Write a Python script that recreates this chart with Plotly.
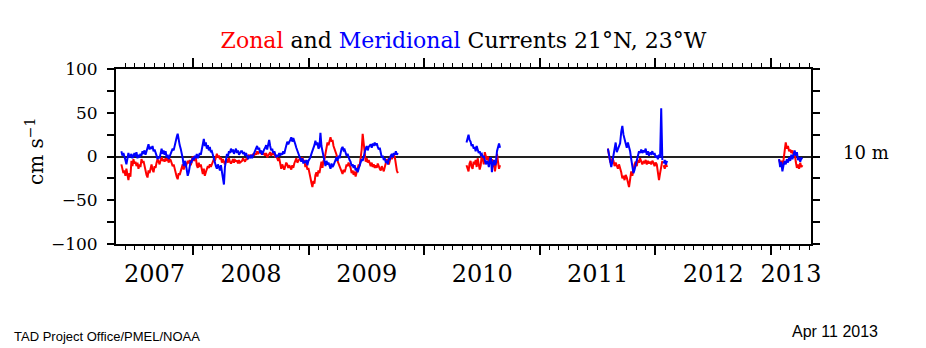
import plotly.graph_objects as go
import pandas as pd

# ---------------- data (cm/s) ----------------
# deployment periods (start, end)
seg_start = ["2007-05-19", "2010-05-14", "2011-08-04", "2012-01-27", "2013-01-26"]
seg_end = ["2009-10-09", "2010-08-28", "2012-01-23", "2012-02-07", "2013-04-10"]

# Zonal (u) component
u_seg1 = [-9, -14, -19, -16, -22, -14, -21, -27, -19, -23, -5, -11, -3, -8, -6,
          -11, -7, -14, -9, -12, -3, -7, -5, -11, -14, -21, -24, -16, -19, -12,
          -9, -15, -18, -11, -13, -7, -3, -6, -9, -4, -1, -5, -3, -6, -2,
          -5, -2, -7, -3, -4, -7, -11, -9, -15, -18, -23, -26, -19, -21, -16,
          -13, -9, -15, -10, -12, -9, -5, -8, -4, -10, -3, 0, -5, -2, -1,
          -10, -13, -7, -12, -9, -16, -20, -14, -22, -18, -15, -11, -13, -9, -12,
          -9, -6, -3, -5, 1, 3, -1, 1, -3, -1, -7, -3, -6, -9, -5,
          -4, -7, -2, -6, -8, -6, -3, -7, -4, -5, -5, -8, -4, -7, -6,
          -5, -2, -4, -6, -3, -3, 0, 2, -1, 1, 0, 3, 1, 4, 2, 6, 3, 5,
          7, 3, 5, 2, 4, 1, 4, -1, 2, 3, 5, 1, 4, 2, 6,
          -1, 1, -3, -5, -2, -10, -14, -9, -12, -15, -11, -7, -9, -13, -10,
          -12, -15, -10, -13, -8, -5, -2, -7, -4, -3, -3, -5, -1, -6, -4,
          -12, -9, -15, -13, -17, -24, -30, -35, -28, -31, -21, -18, -23, -16, -19,
          -10, -6, -13, -5, -3, 5, 11, 16, 13, 18, 22, 17, 19, 12, 9,
          7, 2, -5, -8, -11, -13, -16, -20, -15, -18, -14, -9, -11, -7, -10,
          -13, -19, -16, -21, -17, -23, -18, -13, -9, -11, -4, 8, 26, 12, 2,
          -6, -2, -7, -4, -9, -11, -7, -12, -9, -13, -10, -13, -8, -12, -14,
          -16, -11, -14, -17, -12, -7, -3, -6, -9, -5, 1, -3, 0, 2, -1,
          -12, -16, -19]
u_seg2 = [-10, -15, -17, -8, -5, -12, -14, -6, -9, -4, -12, -2, -8, -15, -10,
          2, -3, -9, 5, 1, -4, 0, -6, -2, -8, -3, -12, -6, -17, -9, 3, -6,
          -14, -10]
u_seg3 = [9, 2, -6, -8, -2, -5, -11, -7, -10, -14, -9, -13, -18, -25, -22,
          -27, -21, -24, -30, -35, -26, -17, -22, -15, -9, -6, -11, -4, -7, -2,
          -5, -9, -6, -7, -4, -9, -5, -8, -6, -9, -5, -7, -11, -7, -9,
          -16, -27, -19, -12, -5]
u_seg3b = [-10, -14, -8, -12]
u_seg4 = [-3, -8, -5, -9, -4, 11, 16, 9, 12, 6, 8, 4, 7, 2, 5, -6, -13, -9,
          -14, -7, -12, -10]

# Meridional (v) component
v_seg1 = [6, 1, 4, -2, -4, -9, -3, 4, -1, 2, 3, -2, 1, 4, 0,
          5, -2, 2, -1, 3, 1, 6, 3, 7, 2, 5, 10, 14, 8, 11,
          9, 12, 6, 8, 3, 1, -3, 0, -2, 4, 9, 3, 7, 2, 6,
          -1, 2, -3, 0, 3, 5, 9, 7, 13, 16, 22, 26, 18, 13, 9,
          5, -2, -11, -5, -8, -15, -22, -18, -9, -5, -6, -1, -4, 1, -2,
          3, -2, 1, 4, 2, 8, 15, 20, 12, 16, 9, 13, 7, 11, 5,
          6, 2, -3, -8, -11, -14, -9, -12, -16, -10, -19, -24, -32, -12, -3,
          3, 0, 6, 4, 9, 5, 8, 3, 7, 9, 4, 7, 2, 5, 6,
          6, 3, 5, 1, 4, 1, -3, 0, -1, 2, -2, 1, 4, 7, 9, 12, 8, 10,
          4, 7, 2, 6, 8, 10, 13, 8, 16, 19, 12, 7, 9, 4, 6,
          3, -1, 2, 0, 4, 1, 4, 2, 6, 3, 8, 13, 17, 14, 16,
          19, 22, 17, 21, 16, 14, 10, 7, 4, 2, -3, -6, -2, -8, -5,
          -7, -4, -10, -5, -3, -1, 3, 6, 10, 13, 18, 13, 16, 9, 11,
          27, 12, 6, -2, -6, -11, -5, -9, -7, -10, -14, -8, -12, -10, -7,
          -3, -1, -5, 1, -2, 5, 9, 11, 7, 8, 5, 1, 3, -2, -4,
          -6, -11, -9, -13, -10, -16, -13, -18, -14, -11, -7, -3, -5, 1, 3,
          9, 12, 7, 11, 13, 14, 10, 15, 12, 16, 13, 15, 11, 8, 10,
          3, -1, 1, -4, -2, -7, -5, -9, -2, -4, 1, 3, -1, 4, 2,
          6, 2, 4]
v_seg2 = [16, 21, 25, 19, 17, 12, 14, 9, 11, 6, 12, 8, 4, 6, 2, 3, -1, 1, -4,
          -9, -5, -7, -12, -3, -1, -18, -8, -4, -10, -7, 6, 12, 15, 10]
v_seg3 = [9, 3, -5, -12, -6, 3, 11, 16, 5, 8, 12, 15, 28, 35, 25,
          21, 15, 10, 16, 11, 6, -3, -13, -19, -15, -9, -6, 2, 6, 4,
          8, 4, 7, 5, 9, 2, 6, 1, 4, 3, 6, 2, 4, -1, 1,
          -3, 2, -1, 55, -4]
v_seg3b = [-8, -4, -9, -5]
v_seg4 = [-3, -12, -6, -17, -10, -5, -9, -3, -7, -1, -5, 2, -3, 3, 7, 1, 5,
          -4, -1, -6, -2, -3]

u_segs = [u_seg1, u_seg2, u_seg3, u_seg3b, u_seg4]
v_segs = [v_seg1, v_seg2, v_seg3, v_seg3b, v_seg4]

year_labels = ["2007", "2008", "2009", "2010", "2011", "2012", "2013"]
x_range = ["2007-05-02", "2013-05-07"]
y_ticks = [-100, -50, 0, 50, 100]


def build(segs):
    xs, ys = [], []
    for s, e, vals in zip(seg_start, seg_end, segs):
        d = pd.date_range(s, e, periods=len(vals))
        xs += list(d) + [None]
        ys += list(vals) + [None]
    return xs, ys


ux, uy = build(u_segs)
vx, vy = build(v_segs)

fig = go.Figure()
fig.add_trace(go.Scatter(x=ux, y=uy, mode="lines", line=dict(color="#ff0000", width=2),
                         connectgaps=False, showlegend=False, hoverinfo="skip"))
fig.add_trace(go.Scatter(x=vx, y=vy, mode="lines", line=dict(color="#0000ff", width=2),
                         connectgaps=False, showlegend=False, hoverinfo="skip"))

# year label positions: middle of the visible part of each year
r0 = pd.Timestamp(x_range[0])
r1 = pd.Timestamp(x_range[1])
mids = []
for lab in year_labels:
    a = max(pd.Timestamp(lab + "-01-01"), r0)
    b = min(pd.Timestamp(str(int(lab) + 1) + "-01-01"), r1)
    mids.append(a + (b - a) / 2)
year_ticks = [pd.Timestamp(l + "-01-01") for l in year_labels[1:]]

# invisible trace to anchor label axis
fig.add_trace(go.Scatter(x=[r0, r1], y=[None, None], xaxis="x2", mode="lines",
                         showlegend=False, hoverinfo="skip"))

fig.update_layout(
    width=926, height=348,
    margin=dict(l=116, r=115, t=69, b=104),
    paper_bgcolor="white", plot_bgcolor="white",
    font=dict(family="DejaVu Serif", color="black"),
    showlegend=False,
    xaxis=dict(
        type="date", range=x_range,
        tickmode="array", tickvals=year_ticks, showticklabels=False,
        ticks="outside", ticklen=9, tickwidth=1.5, tickcolor="black",
        showline=True, linecolor="black", linewidth=2, mirror="allticks",
        showgrid=False, zeroline=False,
        minor=dict(dtick="M1", tick0="2007-01-01", ticks="outside", ticklen=4,
                   tickwidth=1.2, tickcolor="black", showgrid=False),
    ),
    xaxis2=dict(
        type="date", range=x_range, overlaying="x", side="bottom",
        tickmode="array", tickvals=mids, ticktext=year_labels,
        ticks="outside", ticklen=8, tickcolor="rgba(0,0,0,0)",
        showline=False, showgrid=False, zeroline=False,
        tickfont=dict(family="DejaVu Serif", size=24, color="black"),
    ),
    yaxis=dict(
        range=[-100, 100], tickmode="array", tickvals=y_ticks,
        ticks="outside", ticklen=7, tickwidth=1.5, tickcolor="black",
        tickfont=dict(family="DejaVu Serif", size=17, color="black"),
        ticklabelstandoff=6,
        showline=True, linecolor="black", linewidth=2, mirror="allticks",
        showgrid=False,
        zeroline=True, zerolinecolor="#222222", zerolinewidth=2,
        minor=dict(dtick=25, tick0=0, ticks="outside", ticklen=7, tickwidth=1.5,
                   tickcolor="black", showgrid=False),
    ),
    title=dict(
        text='<span style="color:#ff0000">Zonal</span> and '
             '<span style="color:#0000ff">Meridional</span> Currents 21°N, 23°W',
        x=0.5, xref="paper", xanchor="center",
        y=1 - 40 / 348, yref="container", yanchor="middle",
        font=dict(family="DejaVu Serif", size=22, color="black"),
    ),
)

fig.add_annotation(text="cm s<sup>−1</sup>", textangle=-90,
                   x=(35 - 116) / 695, y=(244 - 152) / 175, xref="paper", yref="paper",
                   xanchor="center", yanchor="middle", showarrow=False,
                   font=dict(family="DejaVu Serif", size=20, color="black"))
fig.add_annotation(text="10 m", x=(866 - 116) / 695, y=(244 - 152) / 175,
                   xref="paper", yref="paper", xanchor="center", yanchor="middle",
                   showarrow=False, font=dict(family="DejaVu Serif", size=18, color="black"))
fig.add_annotation(text="TAD Project Office/PMEL/NOAA", x=(12 - 116) / 695,
                   y=(244 - 336) / 175, xref="paper", yref="paper", xanchor="left",
                   yanchor="middle", showarrow=False,
                   font=dict(family="Liberation Sans", size=13, color="black"))
fig.add_annotation(text="Apr 11 2013", x=(790 - 116) / 695, y=(244 - 331) / 175,
                   xref="paper", yref="paper", xanchor="left", yanchor="middle",
                   showarrow=False, font=dict(family="Liberation Sans", size=16, color="black"))

fig.write_html("out.html")
